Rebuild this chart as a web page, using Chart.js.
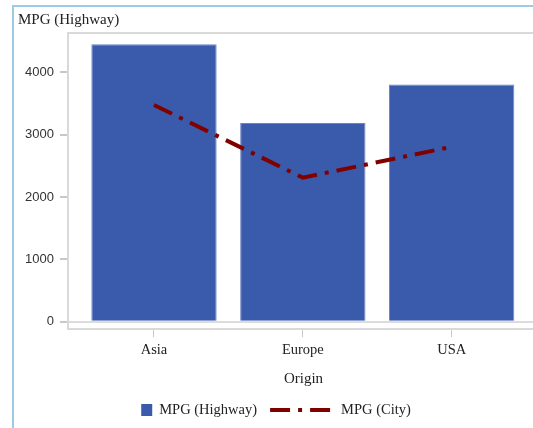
<!DOCTYPE html>
<html>
<head>
<meta charset="utf-8">
<script src="https://cdn.jsdelivr.net/npm/chart.js@4.4.0/dist/chart.umd.min.js"></script>
<style>
    html, body { margin: 0; padding: 0; background: #fff; overflow: hidden; }
    #outer { position: absolute; left: 12px; top: 5px; width: 600px; height: 600px; border: 2px solid #9ccbe8; box-sizing: border-box; }
    #wrap { position: absolute; left: 0; top: 0; width: 552px; height: 428px; }
</style>
</head>
<body>
<div id="outer"></div>
<div id="wrap"><canvas id="myChart"></canvas></div>
<script>
const categories = ['Asia', 'Europe', 'USA'];
const highway = [4450, 3185, 3805];
const city = [3475, 2310, 2805];
const yTicks = [0, 1000, 2000, 3000, 4000];

const serif = '"Liberation Serif", "DejaVu Serif", serif';

// plot frame
const framePlugin = {
    id: 'frame',
    beforeDatasetsDraw(chart) {
        const c = chart.ctx;
        const a = chart.chartArea;
        c.save();
        c.strokeStyle = '#d9d9d9';
        c.lineWidth = 2;
        c.strokeRect(a.left - 1, a.top, a.right - a.left + 1, a.bottom - a.top);
        c.restore();
    }
};

// legend drawn by hand: square for the bars, dashed line for the line
const legendPlugin = {
    id: 'bottomLegend',
    afterDraw(chart) {
        const c = chart.ctx;
        const ds = chart.data.datasets;
        c.save();
        c.font = '14.5px ' + serif;
        c.textBaseline = 'middle';
        const w1 = c.measureText(ds[0].label).width;
        const w2 = c.measureText(ds[1].label).width;
        const total = 11 + 7 + w1 + 13 + 62 + 9 + w2;
        let x = chart.width / 2 - total / 2;
        const y = chart.height - 18;
        c.fillStyle = ds[0].backgroundColor;
        c.fillRect(x, y - 6, 11, 12);
        x += 18;
        c.fillStyle = '#222';
        c.fillText(ds[0].label, x, y);
        x += w1 + 13;
        c.strokeStyle = ds[1].borderColor;
        c.lineWidth = 4;
        c.setLineDash(ds[1].borderDash);
        c.beginPath();
        c.moveTo(x, y);
        c.lineTo(x + 62, y);
        c.stroke();
        c.setLineDash([]);
        x += 62 + 9;
        c.fillText(ds[1].label, x, y);
        c.restore();
    }
};

const ctx = document.getElementById('myChart').getContext('2d');
const myChart = new Chart(ctx, {
    type: 'bar',
    data: {
        datasets: [{
            type: 'bar',
            label: 'MPG (Highway)',
            data: categories.map((c, i) => ({ x: i, y: highway[i] })),
            backgroundColor: '#3a5aac',
            borderColor: '#6c84c6',
            borderWidth: 1,
            barPercentage: 0.842,
            categoryPercentage: 1,
            order: 1,
        }, {
            type: 'line',
            label: 'MPG (City)',
            data: categories.map((c, i) => ({ x: i, y: city[i] })),
            borderColor: '#800000',
            borderWidth: 4,
            borderDash: [20, 8, 4, 8],
            borderCapStyle: 'butt',
            pointRadius: 0,
            fill: false,
            order: 0,
        }]
    },
    options: {
        responsive: true,
        maintainAspectRatio: false,
        animation: false,
        layout: {
            padding: { top: 0, right: 14, bottom: 37, left: 18 }
        },
        plugins: {
            legend: { display: false },
            tooltip: { enabled: false },
            title: {
                display: true,
                text: 'MPG (Highway)',
                align: 'start',
                color: '#222',
                font: { family: serif, size: 15, weight: 'normal' },
                padding: { top: 11, bottom: 4 },
            },
        },
        scales: {
            x: {
                type: 'linear',
                min: -0.571,
                max: 2.58,
                offset: false,
                border: { display: false },
                grid: {
                    offset: false,
                    drawOnChartArea: false,
                    tickLength: 8,
                    tickColor: '#c8c8c8',
                },
                afterBuildTicks: axis => {
                    axis.ticks = categories.map((c, i) => ({ value: i }));
                },
                afterFit: axis => { axis.height = 62; },
                ticks: {
                    padding: 4,
                    color: '#222',
                    font: { family: serif, size: 14.5 },
                    callback: value => categories[value],
                },
                title: {
                    display: true,
                    text: 'Origin',
                    color: '#222',
                    font: { family: serif, size: 15 },
                    padding: { top: 0, bottom: 3 },
                },
            },
            y: {
                min: -117,
                max: 4630,
                border: { display: false },
                grid: {
                    tickLength: 9,
                    tickColor: '#c8c8c8',
                    lineWidth: 2,
                    color: c => (c.tick && c.tick.value === 0) ? '#dcdcdc' : 'rgba(0,0,0,0)',
                },
                afterBuildTicks: axis => {
                    axis.ticks = yTicks.map(v => ({ value: v }));
                },
                afterFit: axis => { axis.width = 51; },
                ticks: {
                    padding: 6,
                    color: '#333',
                    font: { family: '"Liberation Sans", Arial, sans-serif', size: 13 },
                    callback: value => String(value),
                },
            },
        },
    },
    plugins: [framePlugin, legendPlugin],
});
</script>
</body>
</html>
